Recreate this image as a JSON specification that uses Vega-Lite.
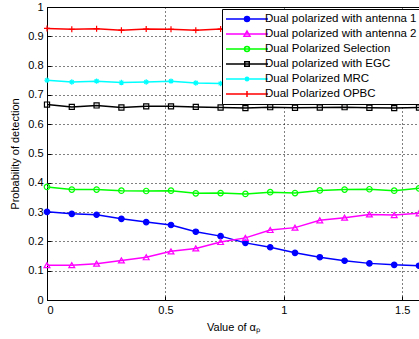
{
  "$schema": "https://vega.github.io/schema/vega-lite/v6.json",
  "width": 372,
  "height": 293,
  "autosize": {"type": "none"},
  "padding": {"left": 47, "top": 7, "right": 0, "bottom": 39},
  "background": "white",
  "config": {
    "view": {"stroke": "black", "strokeWidth": 1},
    "font": "Liberation Sans",
    "axis": {
      "labelFont": "Liberation Sans", "labelFontSize": 11, "labelColor": "black",
      "titleFont": "Liberation Sans", "titleFontSize": 11, "titleFontWeight": "normal", "titleColor": "black",
      "domainColor": "black", "domainWidth": 1, "tickColor": "black", "tickSize": -4,
      "gridColor": "black", "gridDash": [1, 3], "gridOpacity": 1, "gridWidth": 1
    },
    "legend": {
      "labelFont": "Liberation Sans", "labelFontSize": 11.5, "labelColor": "black",
      "title": null, "orient": "none", "legendX": 175, "legendY": 2,
      "strokeColor": "black", "fillColor": "white", "padding": 4,
      "symbolSize": 100, "symbolStrokeWidth": 1.5, "symbolOffset": 15, "labelOffset": 12, "rowPadding": 3
    }
  },
  "data": {"values": [
    {"x": 0.0000, "s": "Dual polarized with antenna 1", "y": 0.301},
    {"x": 0.1047, "s": "Dual polarized with antenna 1", "y": 0.294},
    {"x": 0.2094, "s": "Dual polarized with antenna 1", "y": 0.291},
    {"x": 0.3142, "s": "Dual polarized with antenna 1", "y": 0.277},
    {"x": 0.4189, "s": "Dual polarized with antenna 1", "y": 0.266},
    {"x": 0.5236, "s": "Dual polarized with antenna 1", "y": 0.256},
    {"x": 0.6283, "s": "Dual polarized with antenna 1", "y": 0.233},
    {"x": 0.7330, "s": "Dual polarized with antenna 1", "y": 0.218},
    {"x": 0.8378, "s": "Dual polarized with antenna 1", "y": 0.195},
    {"x": 0.9425, "s": "Dual polarized with antenna 1", "y": 0.180},
    {"x": 1.0472, "s": "Dual polarized with antenna 1", "y": 0.161},
    {"x": 1.1519, "s": "Dual polarized with antenna 1", "y": 0.146},
    {"x": 1.2566, "s": "Dual polarized with antenna 1", "y": 0.134},
    {"x": 1.3614, "s": "Dual polarized with antenna 1", "y": 0.125},
    {"x": 1.4661, "s": "Dual polarized with antenna 1", "y": 0.120},
    {"x": 1.5708, "s": "Dual polarized with antenna 1", "y": 0.117},
    {"x": 0.0000, "s": "Dual polarized with antenna 2", "y": 0.119},
    {"x": 0.1047, "s": "Dual polarized with antenna 2", "y": 0.119},
    {"x": 0.2094, "s": "Dual polarized with antenna 2", "y": 0.124},
    {"x": 0.3142, "s": "Dual polarized with antenna 2", "y": 0.135},
    {"x": 0.4189, "s": "Dual polarized with antenna 2", "y": 0.146},
    {"x": 0.5236, "s": "Dual polarized with antenna 2", "y": 0.166},
    {"x": 0.6283, "s": "Dual polarized with antenna 2", "y": 0.176},
    {"x": 0.7330, "s": "Dual polarized with antenna 2", "y": 0.198},
    {"x": 0.8378, "s": "Dual polarized with antenna 2", "y": 0.212},
    {"x": 0.9425, "s": "Dual polarized with antenna 2", "y": 0.239},
    {"x": 1.0472, "s": "Dual polarized with antenna 2", "y": 0.247},
    {"x": 1.1519, "s": "Dual polarized with antenna 2", "y": 0.272},
    {"x": 1.2566, "s": "Dual polarized with antenna 2", "y": 0.281},
    {"x": 1.3614, "s": "Dual polarized with antenna 2", "y": 0.292},
    {"x": 1.4661, "s": "Dual polarized with antenna 2", "y": 0.290},
    {"x": 1.5708, "s": "Dual polarized with antenna 2", "y": 0.296},
    {"x": 0.0000, "s": "Dual Polarized Selection", "y": 0.386},
    {"x": 0.1047, "s": "Dual Polarized Selection", "y": 0.377},
    {"x": 0.2094, "s": "Dual Polarized Selection", "y": 0.377},
    {"x": 0.3142, "s": "Dual Polarized Selection", "y": 0.373},
    {"x": 0.4189, "s": "Dual Polarized Selection", "y": 0.372},
    {"x": 0.5236, "s": "Dual Polarized Selection", "y": 0.373},
    {"x": 0.6283, "s": "Dual Polarized Selection", "y": 0.364},
    {"x": 0.7330, "s": "Dual Polarized Selection", "y": 0.365},
    {"x": 0.8378, "s": "Dual Polarized Selection", "y": 0.362},
    {"x": 0.9425, "s": "Dual Polarized Selection", "y": 0.368},
    {"x": 1.0472, "s": "Dual Polarized Selection", "y": 0.365},
    {"x": 1.1519, "s": "Dual Polarized Selection", "y": 0.374},
    {"x": 1.2566, "s": "Dual Polarized Selection", "y": 0.377},
    {"x": 1.3614, "s": "Dual Polarized Selection", "y": 0.378},
    {"x": 1.4661, "s": "Dual Polarized Selection", "y": 0.373},
    {"x": 1.5708, "s": "Dual Polarized Selection", "y": 0.381},
    {"x": 0.0000, "s": "Dual polarized with EGC", "y": 0.667},
    {"x": 0.1047, "s": "Dual polarized with EGC", "y": 0.659},
    {"x": 0.2094, "s": "Dual polarized with EGC", "y": 0.664},
    {"x": 0.3142, "s": "Dual polarized with EGC", "y": 0.657},
    {"x": 0.4189, "s": "Dual polarized with EGC", "y": 0.661},
    {"x": 0.5236, "s": "Dual polarized with EGC", "y": 0.661},
    {"x": 0.6283, "s": "Dual polarized with EGC", "y": 0.659},
    {"x": 0.7330, "s": "Dual polarized with EGC", "y": 0.657},
    {"x": 0.8378, "s": "Dual polarized with EGC", "y": 0.655},
    {"x": 0.9425, "s": "Dual polarized with EGC", "y": 0.658},
    {"x": 1.0472, "s": "Dual polarized with EGC", "y": 0.656},
    {"x": 1.1519, "s": "Dual polarized with EGC", "y": 0.657},
    {"x": 1.2566, "s": "Dual polarized with EGC", "y": 0.658},
    {"x": 1.3614, "s": "Dual polarized with EGC", "y": 0.656},
    {"x": 1.4661, "s": "Dual polarized with EGC", "y": 0.655},
    {"x": 1.5708, "s": "Dual polarized with EGC", "y": 0.657},
    {"x": 0.0000, "s": "Dual Polarized MRC", "y": 0.750},
    {"x": 0.1047, "s": "Dual Polarized MRC", "y": 0.744},
    {"x": 0.2094, "s": "Dual Polarized MRC", "y": 0.747},
    {"x": 0.3142, "s": "Dual Polarized MRC", "y": 0.742},
    {"x": 0.4189, "s": "Dual Polarized MRC", "y": 0.744},
    {"x": 0.5236, "s": "Dual Polarized MRC", "y": 0.747},
    {"x": 0.6283, "s": "Dual Polarized MRC", "y": 0.741},
    {"x": 0.7330, "s": "Dual Polarized MRC", "y": 0.739},
    {"x": 0.8378, "s": "Dual Polarized MRC", "y": 0.741},
    {"x": 0.9425, "s": "Dual Polarized MRC", "y": 0.740},
    {"x": 1.0472, "s": "Dual Polarized MRC", "y": 0.742},
    {"x": 1.1519, "s": "Dual Polarized MRC", "y": 0.739},
    {"x": 1.2566, "s": "Dual Polarized MRC", "y": 0.741},
    {"x": 1.3614, "s": "Dual Polarized MRC", "y": 0.740},
    {"x": 1.4661, "s": "Dual Polarized MRC", "y": 0.739},
    {"x": 1.5708, "s": "Dual Polarized MRC", "y": 0.740},
    {"x": 0.0000, "s": "Dual Polarized OPBC", "y": 0.927},
    {"x": 0.1047, "s": "Dual Polarized OPBC", "y": 0.924},
    {"x": 0.2094, "s": "Dual Polarized OPBC", "y": 0.926},
    {"x": 0.3142, "s": "Dual Polarized OPBC", "y": 0.921},
    {"x": 0.4189, "s": "Dual Polarized OPBC", "y": 0.925},
    {"x": 0.5236, "s": "Dual Polarized OPBC", "y": 0.924},
    {"x": 0.6283, "s": "Dual Polarized OPBC", "y": 0.921},
    {"x": 0.7330, "s": "Dual Polarized OPBC", "y": 0.925},
    {"x": 0.8378, "s": "Dual Polarized OPBC", "y": 0.924},
    {"x": 0.9425, "s": "Dual Polarized OPBC", "y": 0.925},
    {"x": 1.0472, "s": "Dual Polarized OPBC", "y": 0.923},
    {"x": 1.1519, "s": "Dual Polarized OPBC", "y": 0.925},
    {"x": 1.2566, "s": "Dual Polarized OPBC", "y": 0.924},
    {"x": 1.3614, "s": "Dual Polarized OPBC", "y": 0.925},
    {"x": 1.4661, "s": "Dual Polarized OPBC", "y": 0.923},
    {"x": 1.5708, "s": "Dual Polarized OPBC", "y": 0.924}
  ]},
  "encoding": {
    "x": {"field": "x", "type": "quantitative",
      "scale": {"domain": [0, 1.5708], "nice": false, "zero": false},
      "axis": {"values": [0, 0.5, 1, 1.5], "format": "~g", "title": "Value of αₚ", "titlePadding": 6, "labelPadding": 8}},
    "y": {"field": "y", "type": "quantitative",
      "scale": {"domain": [0, 1], "nice": false},
      "axis": {"values": [0, 0.1, 0.2, 0.3, 0.4, 0.5, 0.6, 0.7, 0.8, 0.9, 1], "format": "~g", "title": "Probability of detection", "titlePadding": 7, "labelPadding": 8}},
    "stroke": {"field": "s", "type": "nominal",
      "scale": {"domain": ["Dual polarized with antenna 1", "Dual polarized with antenna 2", "Dual Polarized Selection", "Dual polarized with EGC", "Dual Polarized MRC", "Dual Polarized OPBC"],
                "range": ["#0000ff", "#ff00ff", "#00ff00", "#000000", "#00ffff", "#ff0000"]},
      "legend": {"encode": {"symbols": {"update": {
        "shape": {"signal": "datum.value === 'Dual polarized with antenna 1' ? 'M-4.2,0H4.2M-0.5,0A0.5,0.5 0 1,0 0.5,0A0.5,0.5 0 1,0 -0.5,0' : datum.value === 'Dual polarized with antenna 2' ? 'M-4.2,0H4.2M0,-0.6L0.6,0.45L-0.6,0.45Z' : datum.value === 'Dual Polarized Selection' ? 'M-4.2,0H4.2M-0.5,0A0.5,0.5 0 1,0 0.5,0A0.5,0.5 0 1,0 -0.5,0' : datum.value === 'Dual polarized with EGC' ? 'M-4.2,0H4.2M-0.45,-0.45H0.45V0.45H-0.45Z' : datum.value === 'Dual Polarized MRC' ? 'M-4.2,0H4.2M-0.5,0H0.5M0,-0.5V0.5M-0.35,-0.35L0.35,0.35M-0.35,0.35L0.35,-0.35' : 'M-4.2,0H4.2M-0.6,0H0.6M0,-0.6V0.6'"},
        "fill": {"signal": "datum.value === 'Dual polarized with antenna 1' ? '#0000ff' : 'transparent'"}
      }}}}
    }
  },
  "layer": [
    {"mark": {"type": "line", "strokeWidth": 1.5}},
    {"transform": [{"filter": {"field": "s", "equal": "Dual polarized with antenna 1"}}],
     "mark": {"type": "point", "shape": "circle", "filled": true, "fill": "#0000ff", "size": 30, "strokeWidth": 1.2, "opacity": 1}},
    {"transform": [{"filter": {"field": "s", "equal": "Dual polarized with antenna 2"}}],
     "mark": {"type": "point", "shape": "triangle-up", "filled": false, "size": 34, "strokeWidth": 1.2, "opacity": 1}},
    {"transform": [{"filter": {"field": "s", "equal": "Dual Polarized Selection"}}],
     "mark": {"type": "point", "shape": "circle", "filled": false, "size": 30, "strokeWidth": 1.2, "opacity": 1}},
    {"transform": [{"filter": {"field": "s", "equal": "Dual polarized with EGC"}}],
     "mark": {"type": "point", "shape": "square", "filled": false, "size": 26, "strokeWidth": 1.2, "opacity": 1}},
    {"transform": [{"filter": {"field": "s", "equal": "Dual Polarized MRC"}}],
     "mark": {"type": "point", "shape": "M-1,0H1M0,-1V1M-0.7,-0.7L0.7,0.7M-0.7,0.7L0.7,-0.7", "filled": false, "size": 30, "strokeWidth": 1.2, "opacity": 1}},
    {"transform": [{"filter": {"field": "s", "equal": "Dual Polarized OPBC"}}],
     "mark": {"type": "point", "shape": "M-1,0H1M0,-1V1", "filled": false, "size": 36, "strokeWidth": 1.2, "opacity": 1}}
  ]
}
